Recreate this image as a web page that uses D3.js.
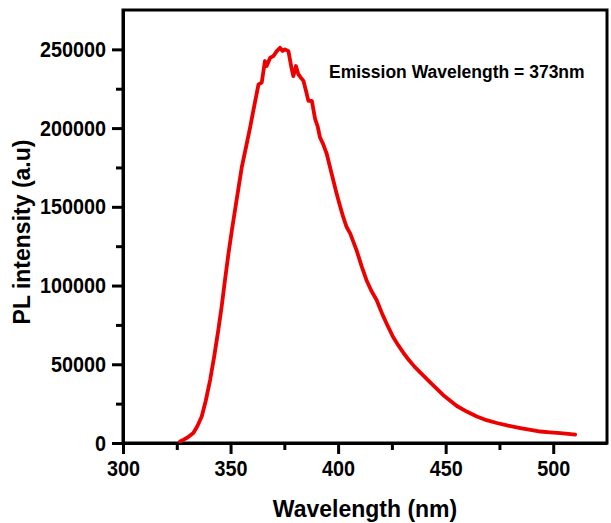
<!DOCTYPE html>
<html>
<head>
<meta charset="utf-8">
<script src="https://cdn.jsdelivr.net/npm/d3@7"></script>
<style>
  html, body { margin: 0; padding: 0; background: #ffffff; }
  svg { display: block; font-family: "Liberation Sans", Arial, sans-serif; }
</style>
</head>
<body>
<div id="chart"></div>
<script>
// PL spectrum (nm, a.u.)
const wavelength = [
  326.5, 328.0, 330.0, 332.7, 334.5, 336.6, 338.5, 340.5, 342.4, 344.3,
  345.9, 347.4, 349.0, 350.6, 353.0, 355.2, 357.2, 359.1, 361.0, 363.0,
  364.5, 366.0, 366.8, 368.4, 369.9, 371.5, 373.0, 374.2, 375.3, 376.9,
  378.3, 379.2, 380.4, 381.5, 382.7, 383.9, 385.0, 386.2, 387.8, 389.3,
  390.5, 391.6, 393.0, 394.7, 397.0, 399.3, 400.8, 402.4, 404.0, 405.6,
  408.6, 411.0, 413.2, 415.5, 417.9, 420.5, 423.0, 425.5, 428.0, 430.5,
  433.0, 435.5, 438.0, 442.8, 448.8, 455.2, 460.0, 464.5, 469.0, 473.8,
  479.0, 484.7, 489.5, 494.0, 498.5, 503.3, 507.0, 510.2
];
const intensity = [
  1000, 2000, 3500, 6300, 10500, 16800, 27000, 40000, 55000, 71700,
  87000, 103400, 120000, 135000, 156000, 175000, 188000, 200400, 214000, 227800,
  228900, 242600, 239400, 244700, 245700, 248900, 251000, 249000, 250000, 248900,
  238400, 233000, 239400, 234200, 232000, 230000, 224000, 217300, 217300, 205900,
  201000, 194000, 190000, 183700, 171000, 158400, 151000, 143400, 137000, 133100,
  122300, 112000, 103400, 96500, 90800, 82000, 74500, 67500, 62000, 57000,
  52500, 48500, 45000, 38500, 30500, 23500, 19800, 16800, 14500, 12700,
  11000, 9500, 8300, 7300, 6800, 6300, 5800, 5300
];

const xTicks = [300, 350, 400, 450, 500];
const yTicks = [0, 50000, 100000, 150000, 200000, 250000];
const annotation = "Emission Wavelength = 373nm";

const width = 611, height = 523;
const margin = {top: 10, right: 4, bottom: 80, left: 123};
const lineColor = "#ec0000";
const squeeze = 0.9; // tick labels in the picture are a bit condensed

const svg = d3.select("#chart").append("svg")
    .attr("width", width)
    .attr("height", height);

const innerW = width - margin.left - margin.right;
const innerH = height - margin.top - margin.bottom;

const x = d3.scaleLinear().domain([300, 525]).range([0, innerW]);
const y = d3.scaleLinear().domain([0, 275000]).range([innerH, 0]);

const g = svg.append("g").attr("transform", `translate(${margin.left},${margin.top})`);

// minor ticks halfway between major ones
const xMinor = d3.range(325, 525, 50);
const yMinor = d3.range(25000, 275000, 50000);

// frame (top + right)
g.append("rect")
    .attr("x", 0).attr("y", 0)
    .attr("width", innerW).attr("height", innerH)
    .attr("fill", "none")
    .attr("stroke", "#000")
    .attr("stroke-width", 3);

// x axis
const xAxisG = g.append("g")
    .attr("transform", `translate(0,${innerH})`)
    .call(d3.axisBottom(x).tickValues(xTicks).tickSize(11).tickPadding(6).tickSizeOuter(0));
g.append("g")
    .attr("transform", `translate(0,${innerH})`)
    .call(d3.axisBottom(x).tickValues(xMinor).tickSize(7).tickFormat("").tickSizeOuter(0))
    .call(a => a.select(".domain").remove());

// y axis
const yAxisG = g.append("g")
    .call(d3.axisLeft(y).tickValues(yTicks).tickSize(11).tickPadding(6).tickFormat(d3.format("d")).tickSizeOuter(0));
g.append("g")
    .call(d3.axisLeft(y).tickValues(yMinor).tickSize(7).tickFormat("").tickSizeOuter(0))
    .call(a => a.select(".domain").remove());

g.selectAll(".domain").attr("stroke-width", 3);
g.selectAll(".tick line").attr("stroke-width", 3);
g.selectAll(".tick text")
    .attr("fill", "#000")
    .style("font-size", "22px")
    .style("font-weight", "bold");

// condense labels horizontally, keeping their anchor point
yAxisG.selectAll(".tick text")
    .attr("x", -17 / squeeze)
    .attr("transform", `scale(${squeeze},1)`);
xAxisG.selectAll(".tick text")
    .attr("transform", `scale(${squeeze},1)`);

// spectrum line
const points = wavelength.map((w, i) => [w, intensity[i]]);
g.append("path")
    .datum(points)
    .attr("fill", "none")
    .attr("stroke", lineColor)
    .attr("stroke-width", 3.8)
    .attr("stroke-linejoin", "round")
    .attr("stroke-linecap", "round")
    .attr("d", d3.line().x(d => x(d[0])).y(d => y(d[1])));

// annotation
g.append("text")
    .attr("x", 206)
    .attr("y", 68)
    .style("font-size", "17.5px")
    .style("font-weight", "bold")
    .text(annotation);

// axis titles
svg.append("text")
    .attr("x", 365)
    .attr("y", 517)
    .attr("text-anchor", "middle")
    .style("font-size", "23px")
    .style("font-weight", "bold")
    .text("Wavelength (nm)");

svg.append("text")
    .attr("transform", "translate(30,232) rotate(-90)")
    .attr("text-anchor", "middle")
    .style("font-size", "23px")
    .style("font-weight", "bold")
    .text("PL intensity (a.u)");
</script>
</body>
</html>
